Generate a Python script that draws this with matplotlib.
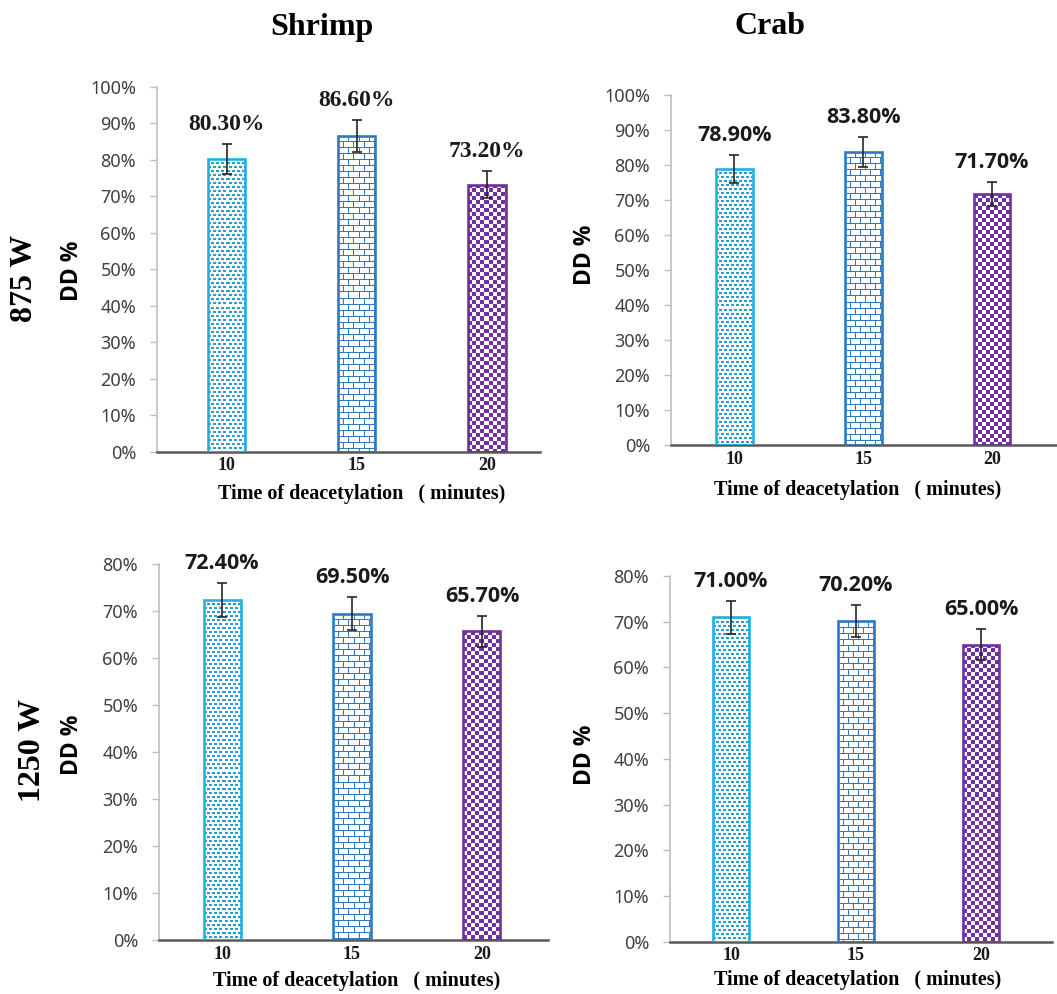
import numpy as np
import matplotlib
matplotlib.use('Agg')
import matplotlib.pyplot as plt
import matplotlib.colors as mcolors

# data
times = ['10', '15', '20']

shrimp_875 = [80.3, 86.6, 73.2]
shrimp_875_err = [4.1, 4.4, 3.7]
crab_875 = [78.9, 83.8, 71.7]
crab_875_err = [4.1, 4.3, 3.4]

shrimp_1250 = [72.4, 69.5, 65.7]
shrimp_1250_err = [3.7, 3.5, 3.3]
crab_1250 = [71.0, 70.2, 65.0]
crab_1250_err = [3.6, 3.5, 3.4]

# styling
colors = ['#22B0E4', '#2E78C2', '#7030A0']
fill_colors = ['#2A9FCB', '#2E78C2', '#7030A0']
patterns = ['dots', 'brick', 'checker']
SERIF = 'Liberation Serif'
SANS = 'Noto Sans'
SANS_BOLD = 'Open Sans'

W, H = 1057, 994
fig = plt.figure(figsize=(W / 100, H / 100), dpi=100)


def px_axes(left, right, bottom, top):
    return fig.add_axes([left / W, 1 - bottom / H, (right - left) / W, (bottom - top) / H])


def ftext(xp, yp, s, **kw):
    fig.text(xp / W, 1 - yp / H, s, ha='center', va='center', **kw)


def texture(kind, w, h, color):
    rgb = mcolors.to_rgb(color)
    yy, xx = np.mgrid[0:h, 0:w]
    if kind == 'dots':
        mask = (((xx + 2 * ((yy // 4) % 2)) % 5) < 3) & ((yy % 4) < 2)
    elif kind == 'brick':
        mask = (yy % 6 == 0) | (((xx + 5 * ((yy // 6) % 2)) % 10) == 0)
    else:
        mask = ((xx // 4 + yy // 4) % 2) == 0
    img = np.ones((h, w, 3))
    img[mask] = rgb
    return img


def draw_panel(ax, vals, errs, ymax, xlim, label_family, label_size):
    x = np.arange(len(times))
    ax.set_xlim(*xlim)
    ax.set_ylim(0, ymax)
    bars = ax.bar(x, vals, width=0.285, facecolor='none', edgecolor=colors,
                  linewidth=1.9, zorder=3)
    for bar, kind, col in zip(bars, patterns, fill_colors):
        x0 = bar.get_x()
        x1 = x0 + bar.get_width()
        (p0, q0), (p1, q1) = ax.transData.transform([[x0, 0], [x1, bar.get_height()]])
        tex = texture(kind, max(int(round(p1 - p0)), 1), max(int(round(q1 - q0)), 1), col)
        im = ax.imshow(tex, extent=(x0, x1, 0, bar.get_height()), interpolation='nearest',
                       aspect='auto', zorder=2)
        im.set_clip_path(bar)
    ax.set_xlim(*xlim)
    ax.set_ylim(0, ymax)
    ax.errorbar(x, vals, yerr=errs, fmt='none', ecolor='#262626', elinewidth=1.2,
                capsize=3.5, capthick=1.2, zorder=4)
    for xi, v, e in zip(x, vals, errs):
        ax.annotate(f'{v:.2f}%', (xi, v + e), xytext=(0, 14), textcoords='offset points',
                    ha='center', va='center', fontweight='bold', fontsize=label_size,
                    family=label_family, color='#1a1a1a')

    ax.set_yticks(np.arange(0, ymax + 1, 10))
    ax.yaxis.set_major_formatter(lambda v, p: f'{v:.0f}%')
    ax.tick_params(axis='y', direction='out', length=5, width=1, color='#BFBFBF',
                   labelcolor='#404040', labelsize=13, pad=10, labelfontfamily=SANS)
    ax.set_xticks(x, times, fontfamily=SERIF, fontweight='bold', fontsize=13)
    ax.tick_params(axis='x', length=0, pad=4, labelcolor='#1a1a1a')
    for s in ['top', 'right']:
        ax.spines[s].set_visible(False)
    ax.spines['left'].set_color('#BFBFBF')
    ax.spines['left'].set_linewidth(1.2)
    ax.spines['bottom'].set_color('#595959')
    ax.spines['bottom'].set_linewidth(1.8)
    ax.patch.set_alpha(0)


ax1 = px_axes(157, 540, 451.7, 86.7)
draw_panel(ax1, shrimp_875, shrimp_875_err, 100, (-0.535, 2.407), SERIF, 17)
ax2 = px_axes(671, 1057, 445, 95)
draw_panel(ax2, crab_875, crab_875_err, 100, (-0.493, 2.505), SANS_BOLD, 15.5)
ax3 = px_axes(159, 548, 940, 564.3)
draw_panel(ax3, shrimp_1250, shrimp_1250_err, 80, (-0.485, 2.508), SANS_BOLD, 15.5)
ax4 = px_axes(670, 1052, 941.7, 576)
draw_panel(ax4, crab_1250, crab_1250_err, 80, (-0.488, 2.568), SANS_BOLD, 15.5)

# column / row titles
ftext(322, 27, 'Shrimp', family=SERIF, fontweight='bold', fontsize=23)
ftext(770, 27, 'Crab', family=SERIF, fontweight='bold', fontsize=23)
ftext(25, 278, '875 W', family=SERIF, fontweight='bold', fontsize=23, rotation=90)
ftext(32, 750, '1250 W', family=SERIF, fontweight='bold', fontsize=23, rotation=90)

# y labels
for xp, yp in [(72, 271), (585, 255), (72, 745), (585, 755)]:
    ftext(xp, yp, 'DD %', family=SANS_BOLD, fontweight='bold', fontsize=16.5, rotation=90)

# x labels
xlab = 'Time of deacetylation   ( minutes)'
for xp, yp in [(362, 494), (858, 490), (357, 981), (858, 980)]:
    ftext(xp, yp, xlab, family=SERIF, fontweight='bold', fontsize=14.5)

fig.savefig('out.png', dpi=100)
